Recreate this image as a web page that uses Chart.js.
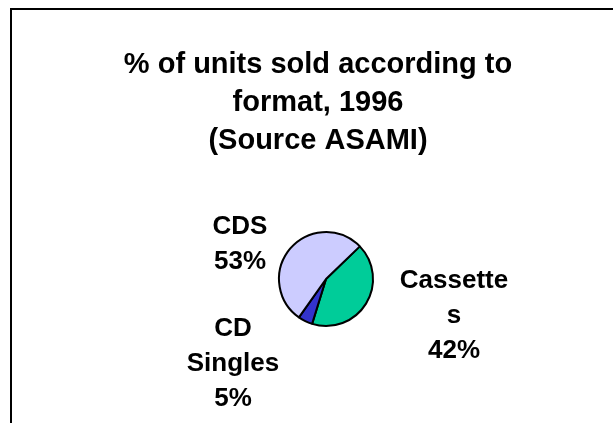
<!DOCTYPE html>
<html>
<head>
<meta charset="utf-8">
<script src="https://cdn.jsdelivr.net/npm/chart.js@4.4.1/dist/chart.umd.min.js"></script>
<style>
  html, body { margin: 0; padding: 0; background: #fff; overflow: hidden; }
  #frame {
    position: absolute; left: 10px; top: 8px; width: 620px; height: 430px;
    border-top: 2px solid #000; border-left: 2px solid #000;
  }
  #chart { position: absolute; left: 0; top: 0; }
</style>
</head>
<body>
<div id="frame"></div>
<canvas id="chart" width="613" height="423"></canvas>
<script>
// data
const categories = ['Cassettes', 'CD Singles', 'CDS'];
const shares = [42, 5, 53];
// how the slice names are wrapped in the picture
const labelLines = [['Cassette', 's'], ['CD', 'Singles'], ['CDS']];
const sliceColors = ['#00CC99', '#3333CC', '#CCCCFF'];
const titleLines = ['% of units sold according to', 'format, 1996', '(Source ASAMI)'];

// slice labels, placed relative to the pie centre
const sliceLabels = {
  id: 'sliceLabels',
  afterDatasetsDraw(chart, args, opts) {
    const ctx = chart.ctx;
    const meta = chart.getDatasetMeta(0);
    ctx.save();
    ctx.font = 'bold 26px "Liberation Sans", Arial, sans-serif';
    ctx.fillStyle = '#000';
    ctx.textAlign = 'center';
    ctx.textBaseline = 'middle';
    meta.data.forEach((arc, i) => {
      const lines = labelLines[i].concat([shares[i] + '%']);
      const off = opts.offsets[i];
      const cx = arc.x + off[0];
      const cy = arc.y + off[1] - (lines.length - 1) * opts.lineHeight / 2;
      lines.forEach((t, j) => ctx.fillText(t, cx, cy + j * opts.lineHeight));
    });
    ctx.restore();
  }
};

new Chart(document.getElementById('chart'), {
  type: 'pie',
  data: {
    labels: categories,
    datasets: [{
      data: shares,
      backgroundColor: sliceColors,
      borderColor: '#000',
      borderWidth: 2
    }]
  },
  options: {
    responsive: false,
    animation: false,
    events: [],
    rotation: 46,
    radius: 47,
    layout: { padding: { left: 23, bottom: 25 } },
    plugins: {
      legend: { display: false },
      tooltip: { enabled: false },
      title: {
        display: true,
        text: titleLines,
        color: '#000',
        font: { family: '"Liberation Sans", Arial, sans-serif', size: 29, weight: 'bold', lineHeight: 38 / 29 },
        padding: { top: 46, bottom: 0 }
      },
      // empty box on the left, nudges the pie right of the title centre
      subtitle: {
        display: true,
        position: 'left',
        text: '',
        font: { size: 16, lineHeight: 1 },
        padding: 0
      },
      sliceLabels: {
        lineHeight: 35,
        offsets: [[128, 37], [-93, 85], [-86, -35]]
      }
    }
  },
  plugins: [sliceLabels]
});
</script>
</body>
</html>
